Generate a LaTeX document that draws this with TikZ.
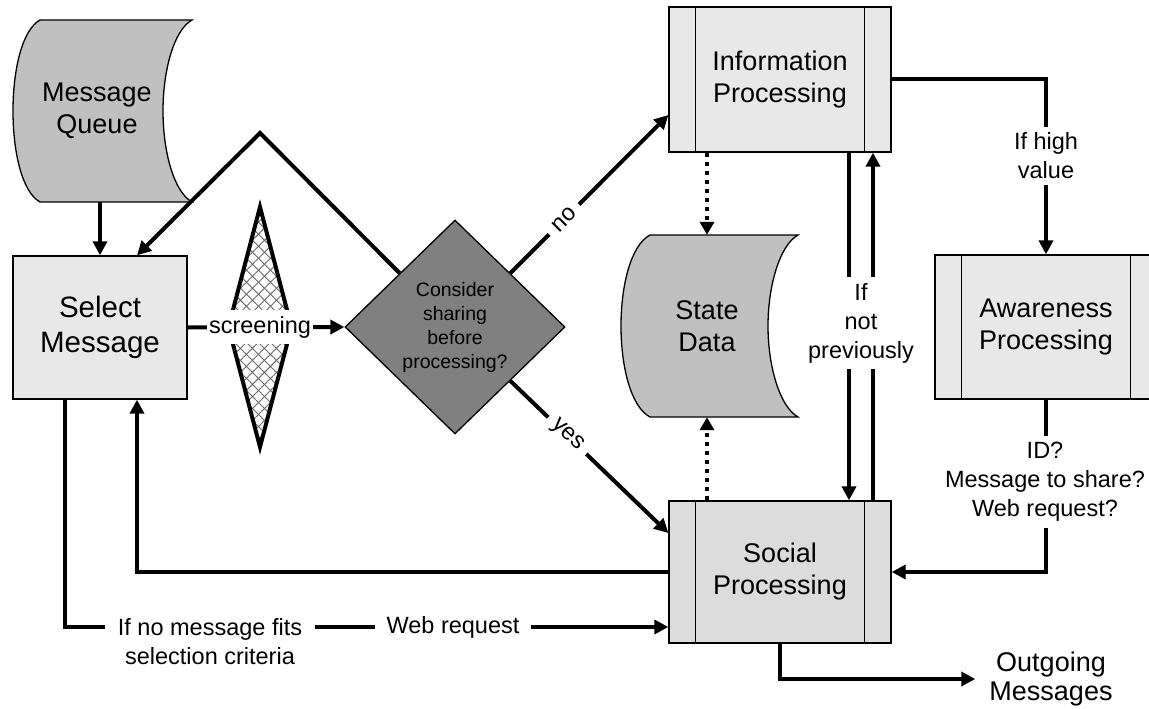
\documentclass[tikz,border=0pt]{standalone}
\usepackage{fontspec}
\setmainfont{Liberation Sans}
\usetikzlibrary{arrows.meta,shapes.geometric,calc,patterns.meta}
\definecolor{boxfill}{HTML}{E8E8E8}
\definecolor{socfill}{HTML}{DCDCDC}
\definecolor{storefill}{HTML}{C0C0C0}
\definecolor{decfill}{HTML}{808080}
\newcommand\boxfnt{\fontsize{27}{32}\selectfont}
\newcommand\selfnt{\fontsize{29.5}{35}\selectfont}
\newcommand\lblfnt{\fontsize{23.5}{29}\selectfont}
\newcommand\decfnt{\fontsize{19.5}{24}\selectfont}
\begin{document}
\begin{tikzpicture}[x=1pt,y=-1pt,
  thinline/.style={line width=1.3pt},
  proc/.style={draw,thinline,fill=boxfill,minimum width=222pt,inner sep=0pt,align=center,font=\boxfnt},
  stored/.style={draw,thinline,fill=storefill},
  txt/.style={inner sep=0pt,align=center,font=\boxfnt},
  arr/.style={line width=4pt,-{Triangle[length=14pt,width=14pt]}},
  dotarr/.style={line width=4pt,dash pattern=on 4.5pt off 4.5pt,-{Triangle[length=13pt,width=14pt]}},
  lbl/.style={fill=white,font=\lblfnt,align=center,inner xsep=10pt,inner ysep=6pt}]
\useasboundingbox (0,0) rectangle (1149,709);

% stored data shapes
\draw[stored] (40,20) -- (192,20) .. controls (174,30) and (163,70) .. (163,111)
  .. controls (163,152) and (174,192) .. (192,202) -- (40,202)
  .. controls (22,192) and (13,152) .. (13,111) .. controls (13,70) and (22,30) .. (40,20) -- cycle;
\draw[stored] (650,235) -- (798,235) .. controls (780,245) and (768,285) .. (768,326)
  .. controls (768,367) and (780,407) .. (798,417) -- (650,417)
  .. controls (631,407) and (621,367) .. (621,326) .. controls (621,285) and (631,245) .. (650,235) -- cycle;

% hatched diamond
\fill[pattern={Lines[angle=45,distance=8.5pt,line width=0.9pt]},pattern color=black!60]
  (260,207) -- (291.5,327) -- (260,447) -- (228.5,327) -- cycle;
\fill[pattern={Lines[angle=-45,distance=8.5pt,line width=0.9pt]},pattern color=black!60]
  (260,207) -- (291.5,327) -- (260,447) -- (228.5,327) -- cycle;
\draw[line width=4pt,line join=miter] (260,207) -- (291.5,327) -- (260,447) -- (228.5,327) -- cycle;

% nodes
\node[txt,minimum width=168pt,minimum height=182pt] (mq) at (97,111) {Message\\Queue};
\node[txt,minimum width=172pt,minimum height=182pt] (state) at (707,326) {State\\Data};
\node[proc,font=\selfnt,minimum width=174pt,minimum height=143pt] (sel) at (100,327.5) {Select\\Message};
\node[draw,thinline,diamond,fill=decfill,minimum width=220pt,minimum height=214pt,inner sep=0pt,align=center,font=\decfnt] (dec) at (455,327) {Consider\\sharing\\before\\processing?};
\node[proc,minimum height=145pt] (info) at (780,79.5) {Information\\Processing};
\node[proc,fill=socfill,minimum height=142pt] (social) at (780,572) {Social\\Processing};
\node[proc,minimum height=144pt] (aware) at (1046,327) {Awareness\\Processing};
\node[txt,inner xsep=14pt,font=\fontsize{27}{29}\selectfont] (out) at (1051,679) {Outgoing\\Messages};

\foreach \n in {info,social,aware}{
  \draw[thinline] ([xshift=27pt]\n.north west) -- ([xshift=27pt]\n.south west);
  \draw[thinline] ([xshift=-27pt]\n.north east) -- ([xshift=-27pt]\n.south east);
}

% connectors
\draw[arr] (mq.south -| sel.north) -- (sel.north);
\coordinate (apex) at (260,133);
\draw[arr] ($(dec.north)!0.5!(dec.west)$) -- (apex) -- ([xshift=37pt]sel.north);
\draw[arr] (sel.east) -- node[lbl,pos=0.462,inner xsep=2pt] (scr) {screening} (dec.west);
\draw[arr] ($(dec.north)!0.5!(dec.east)$) -- node[lbl,sloped,pos=0.34,inner xsep=8pt,inner ysep=2pt] (lno) {no} ([yshift=-35.5pt]info.west);
\draw[arr] ($(dec.south)!0.5!(dec.east)$) -- node[lbl,sloped,pos=0.36,inner xsep=8pt,inner ysep=2pt] (lyes) {yes} ([yshift=39pt]social.west);

\draw[dotarr] (info.south -| state.north) -- (state.north);
\draw[dotarr] (social.north -| state.south) -- (state.south);

\draw[arr] ([xshift=69pt]info.south) -- ([xshift=69pt]social.north);
\draw[arr] ([xshift=93pt]social.north) -- ([xshift=93pt]info.south);
\node[lbl,inner xsep=2pt] (lprev) at (861,323) {If\\not\\previously};

\draw[arr] (info.east) -| (aware.north);
\node[lbl] (lhigh) at (1046,156) {If high\\value};

\draw[arr] (aware.south) |- (social.east);
\node[lbl,inner xsep=2pt] (lid) at (1045,482) {ID?\\Message to share?\\Web request?};

\draw[arr] (social.west) -| ([xshift=37pt]sel.south);

\draw[arr] ([xshift=-35pt]sel.south) |- ([yshift=-55pt]social.west);
\node[lbl,inner xsep=13pt] (lnofit) at (210,642) {If no message fits\\selection criteria};
\node[lbl,inner xsep=12pt] (lweb) at (453,627) {Web request};

\draw[arr] (social.south) |- (out.west);
\end{tikzpicture}
\end{document}
